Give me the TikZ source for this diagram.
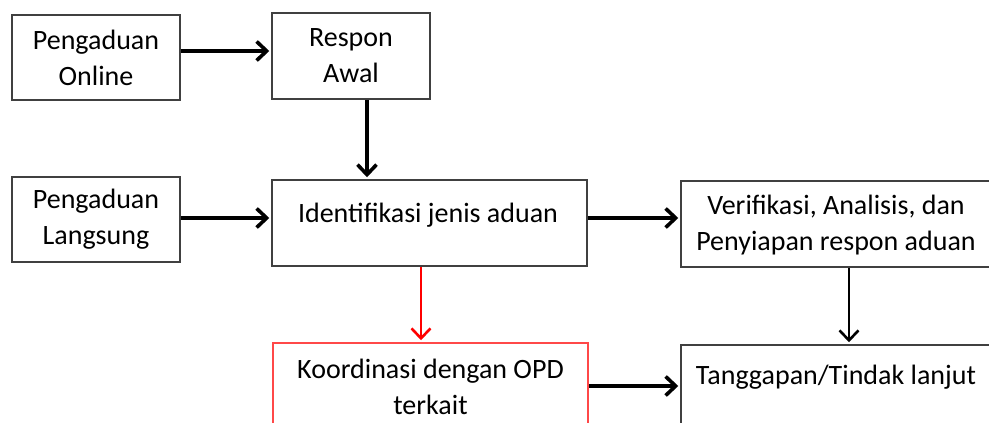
\documentclass[tikz,border=0pt]{standalone}
\usepackage{fontspec}
\setmainfont{Carlito}
\usetikzlibrary{arrows.meta}
\definecolor{boxline}{HTML}{404040}
\definecolor{redline}{HTML}{FF4848}
\definecolor{redarrow}{HTML}{FF0000}
\tikzset{
  box/.style={draw=boxline, line width=1.5pt, rectangle, inner sep=0pt, align=center,
    font=\fontsize{28pt}{36pt}\selectfont},
  lbl/.style={inner sep=0pt, align=center, font=\fontsize{28pt}{36pt}\selectfont},
  arrthick/.style={line width=3.6pt, -{Straight Barb[length=10pt,width=19pt]}, shorten >=2pt},
  arrthin/.style={line width=2.6pt, -{Straight Barb[length=10pt,width=19pt]}, shorten >=2pt},
}
\begin{document}
\begin{tikzpicture}[x=1pt,y=-1pt]
\useasboundingbox (0,0) rectangle (989,423);
\clip (0,0) rectangle (989,423);
% boxes
\node[box, minimum width=168pt, minimum height=85pt] (po) at (96,57.5) {Pengaduan\\Online};
\node[box, minimum width=158pt, minimum height=86pt] (ra) at (351,56) {Respon\\Awal};
\node[box, minimum width=168pt, minimum height=85pt] (pl) at (96,219.5) {Pengaduan\\Langsung};
\node[box, minimum width=315pt, minimum height=86pt] (id) at (429.5,223) {};
\node[lbl] (idt) at (428,215) {Identifikasi jenis aduan};
\node[box, minimum width=320pt, minimum height=86pt] (vr) at (841,224) {};
\node[lbl] (vrt) at (836,225) {Verifikasi, Analisis, dan\\Penyiapan respon aduan};
\node[box, draw=redline, minimum width=315pt, minimum height=88pt] (ko) at (430.5,387) {};
\node[lbl] (kot) at (430.5,386.5) {Koordinasi dengan OPD\\terkait};
\node[box, minimum width=320pt, minimum height=88pt] (tg) at (841,389) {};
\node[lbl] (tgt) at (836,377) {Tanggapan/Tindak lanjut};
% reference coordinates
\coordinate (y1) at (0,51);
\coordinate (y2) at (0,218);
\coordinate (y3) at (0,386);
\coordinate (x1) at (367,0);
\coordinate (x2) at (421,0);
\coordinate (x3) at (849,0);
% connectors
\draw[arrthick] (po.east |- y1) -- (ra.west |- y1);
\draw[arrthick] (ra.south -| x1) -- (id.north -| x1);
\draw[arrthick] (pl.east |- y2) -- (id.west |- y2);
\draw[arrthick] (id.east |- y2) -- (vr.west |- y2);
\draw[arrthin, draw=redarrow] (id.south -| x2) -- (ko.north -| x2);
\draw[arrthin] (vr.south -| x3) -- (tg.north -| x3);
\draw[arrthick] (ko.east |- y3) -- (tg.west |- y3);
\end{tikzpicture}
\end{document}
